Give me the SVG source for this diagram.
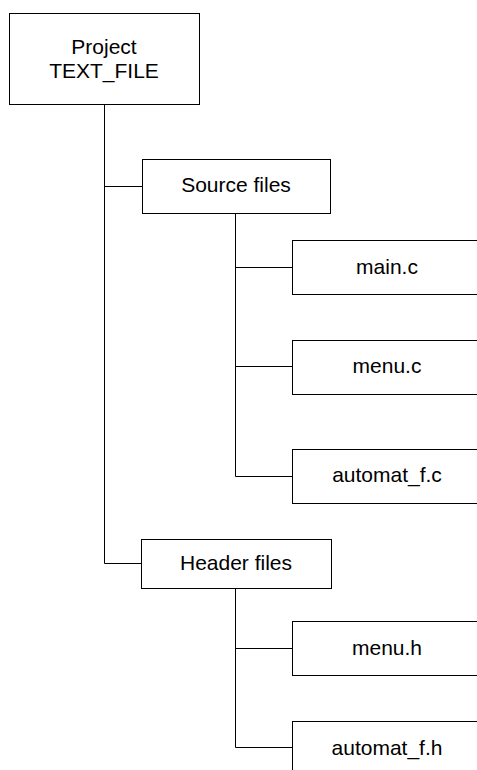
<svg xmlns="http://www.w3.org/2000/svg" width="477" height="770" viewBox="0 0 477 770">
<style>
rect.box{fill:#fff;stroke:#000;stroke-width:1}
text{font-family:"Liberation Sans",Arial,sans-serif;font-size:21px;fill:#000;text-anchor:middle}
.conn path{fill:none;stroke:#000;stroke-width:1}
</style>
<rect width="477" height="770" fill="#fff"/>
<g class="conn" id="connectors">
<path d="M104.5 104 V563.5 H142"/>
<path d="M104.5 186.5 H142"/>
<path d="M235.5 213 V476.5 H292"/>
<path d="M235.5 267.5 H292"/>
<path d="M235.5 366.5 H292"/>
<path d="M235.5 588 V747.5 H292"/>
<path d="M235.5 648.5 H292"/>
</g>
<g id="project"><rect class="box" x="9.5" y="13.5" width="190" height="91"/><text x="104" y="54">Project</text><text x="104" y="78">TEXT_FILE</text></g>
<g id="source"><rect class="box" x="142.5" y="159.5" width="188" height="54"/><text x="236" y="192">Source files</text></g>
<g id="main_c"><rect class="box" x="292.5" y="240.5" width="190" height="54"/><text x="387" y="274">main.c</text></g>
<g id="menu_c"><rect class="box" x="292.5" y="340.5" width="190" height="54"/><text x="387" y="373">menu.c</text></g>
<g id="automat_f_c"><rect class="box" x="292.5" y="449.5" width="190" height="54"/><text x="387" y="482">automat_f.c</text></g>
<g id="header"><rect class="box" x="141.5" y="539.5" width="190" height="49"/><text x="236" y="570">Header files</text></g>
<g id="menu_h"><rect class="box" x="292.5" y="621.5" width="190" height="54"/><text x="387" y="655">menu.h</text></g>
<g id="automat_f_h"><rect class="box" x="292.5" y="721.5" width="190" height="60"/><text x="387" y="755">automat_f.h</text></g>
</svg>
